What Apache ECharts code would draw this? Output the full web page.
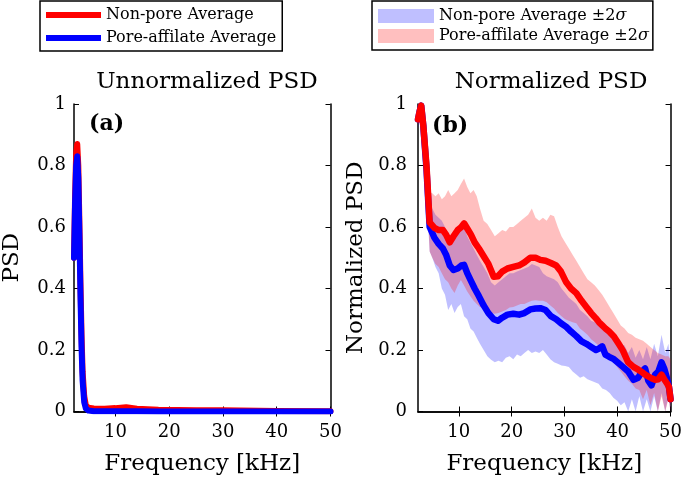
<html>
<head>
<meta charset="UTF-8">
<script src="https://cdn.jsdelivr.net/npm/echarts@6/dist/echarts.min.js"></script>
</head>
<body style="margin:0;background:#fff;">
<div id="main" style="width:685px;height:481px;"></div>
<script type="text/javascript">

// (a) unnormalized PSD
var rawFreq = [2.3, 2.5, 2.7, 2.9, 3.1, 3.3, 3.5, 3.7, 3.9, 4.2, 4.5, 5, 6, 8, 10, 12, 14, 18, 25, 30, 40, 50];
var rawNonPore = [0.50, 0.70, 0.84, 0.87, 0.80, 0.62, 0.42, 0.25, 0.13, 0.05, 0.02, 0.012, 0.01, 0.009, 0.011, 0.014, 0.009, 0.006, 0.004, 0.004, 0.002, 0.001];
var rawPore = [0.50, 0.68, 0.80, 0.83, 0.76, 0.58, 0.38, 0.21, 0.10, 0.03, 0.01, 0.003, 0.001, 0.001, 0.001, 0.001, 0.001, 0, 0, 0, 0, 0];

// (b) normalized PSD, average lines
var normFreq = [2.3, 2.6, 2.9, 3.3, 3.9, 4.5, 5.4, 6.2, 7.0, 7.6, 8.3, 9.0, 9.8, 10.5, 11.0, 11.6, 12.3, 13.0, 13.8, 14.7,
    15.6, 16.6, 17.4, 18.2, 19.2, 20.3, 21.4, 22.4, 23.5, 24.5, 25.4, 26.4, 27.4, 28.4, 29.3, 30.3, 31.2, 32.2, 33.2, 34.1,
    35.0, 35.9, 36.5, 37.1, 37.7, 38.4, 39.3, 40.2, 41.0, 42.0, 43.0, 43.9, 44.6, 45.2, 45.8, 46.4, 47.1, 47.7, 48.3, 48.8,
    49.3, 49.7, 50.0];
var normNonPore = [0.95, 0.975, 0.995, 0.93, 0.80, 0.615, 0.597, 0.59, 0.59, 0.575, 0.55, 0.57, 0.59, 0.60, 0.612, 0.595, 0.575, 0.55, 0.53, 0.505,
    0.48, 0.438, 0.44, 0.455, 0.465, 0.47, 0.475, 0.485, 0.50, 0.50, 0.493, 0.49, 0.483, 0.475, 0.455, 0.42, 0.40, 0.385, 0.36, 0.34,
    0.32, 0.303, 0.29, 0.28, 0.27, 0.26, 0.244, 0.22, 0.198, 0.16, 0.145, 0.136, 0.128, 0.12, 0.114, 0.108, 0.103, 0.105, 0.12, 0.105,
    0.092, 0.08, 0.04];
var normPore = [0.95, 0.975, 0.995, 0.93, 0.79, 0.60, 0.565, 0.545, 0.53, 0.51, 0.475, 0.46, 0.465, 0.475, 0.477, 0.45, 0.425, 0.40, 0.375, 0.345,
    0.32, 0.30, 0.295, 0.305, 0.315, 0.318, 0.315, 0.32, 0.332, 0.335, 0.336, 0.33, 0.31, 0.30, 0.287, 0.275, 0.26, 0.245, 0.228, 0.22,
    0.21, 0.20, 0.205, 0.212, 0.185, 0.178, 0.17, 0.157, 0.145, 0.13, 0.103, 0.11, 0.13, 0.14, 0.10, 0.085, 0.12, 0.13, 0.16, 0.14,
    0.11, 0.08, 0.04];

// (b) +-2 sigma bands
var bandFreq = [2.3, 2.9, 3.5, 4.0, 4.5, 5.0, 5.6, 6.2, 6.8, 7.4, 8.0, 8.6, 9.2, 9.8, 10.4, 11.0, 11.6, 12.2, 12.8, 13.4,
    14.0, 14.7, 15.4, 16.1, 16.8, 17.5, 18.2, 18.9, 19.6, 20.3, 21.0, 21.7, 22.4, 23.1, 23.8, 24.5, 25.2, 25.9, 26.6, 27.3,
    28.0, 28.7, 29.4, 30.1, 30.8, 31.5, 32.2, 32.9, 33.6, 34.3, 35.0, 35.7, 36.4, 37.1, 37.8, 38.5, 39.2, 39.9, 40.6, 41.3,
    42.0, 42.7, 43.4, 44.1, 44.8, 45.5, 46.2, 46.9, 47.6, 48.3, 49.0, 49.6, 50.0];
var pinkUpper = [0.96, 1.0, 0.90, 0.80, 0.715, 0.71, 0.70, 0.71, 0.69, 0.70, 0.72, 0.70, 0.71, 0.72, 0.74, 0.758, 0.73, 0.71, 0.72, 0.70,
    0.66, 0.62, 0.61, 0.59, 0.57, 0.58, 0.59, 0.585, 0.60, 0.60, 0.61, 0.62, 0.63, 0.64, 0.66, 0.63, 0.62, 0.63, 0.62, 0.64,
    0.635, 0.60, 0.57, 0.55, 0.53, 0.51, 0.49, 0.47, 0.45, 0.43, 0.42, 0.41, 0.395, 0.38, 0.36, 0.34, 0.32, 0.30, 0.28, 0.27,
    0.255, 0.25, 0.24, 0.235, 0.23, 0.22, 0.21, 0.20, 0.19, 0.185, 0.18, 0.18, 0.17];
var pinkLower = [0.93, 0.97, 0.85, 0.70, 0.52, 0.50, 0.48, 0.47, 0.45, 0.43, 0.42, 0.40, 0.385, 0.41, 0.428, 0.41, 0.39, 0.375, 0.36, 0.35,
    0.34, 0.335, 0.325, 0.32, 0.318, 0.32, 0.325, 0.33, 0.338, 0.34, 0.345, 0.35, 0.35, 0.355, 0.36, 0.362, 0.36, 0.36, 0.355, 0.345,
    0.335, 0.32, 0.31, 0.30, 0.295, 0.29, 0.287, 0.27, 0.26, 0.25, 0.235, 0.225, 0.215, 0.20, 0.185, 0.175, 0.16, 0.145, 0.13, 0.115,
    0.10, 0.09, 0.075, 0.07, 0.04, 0.07, 0.02, 0.06, 0.0, 0.05, 0.0, 0.04, 0.0];
var blueUpper = [0.94, 0.99, 0.89, 0.78, 0.67, 0.66, 0.64, 0.63, 0.62, 0.60, 0.58, 0.57, 0.57, 0.58, 0.59, 0.60, 0.57, 0.55, 0.53, 0.51,
    0.49, 0.47, 0.45, 0.42, 0.41, 0.42, 0.43, 0.44, 0.45, 0.45, 0.455, 0.46, 0.465, 0.47, 0.48, 0.475, 0.47, 0.45, 0.44, 0.435,
    0.43, 0.42, 0.40, 0.385, 0.37, 0.36, 0.35, 0.33, 0.32, 0.31, 0.295, 0.29, 0.28, 0.27, 0.26, 0.25, 0.24, 0.24, 0.22, 0.215,
    0.19, 0.21, 0.175, 0.20, 0.17, 0.21, 0.17, 0.22, 0.18, 0.25, 0.19, 0.22, 0.15];
var blueLower = [0.92, 0.97, 0.84, 0.68, 0.52, 0.50, 0.47, 0.45, 0.40, 0.38, 0.33, 0.35, 0.32, 0.34, 0.35, 0.31, 0.30, 0.27, 0.26, 0.24,
    0.22, 0.20, 0.18, 0.168, 0.16, 0.165, 0.16, 0.175, 0.18, 0.17, 0.185, 0.18, 0.19, 0.20, 0.19, 0.195, 0.19, 0.20, 0.185, 0.17,
    0.16, 0.155, 0.15, 0.148, 0.145, 0.13, 0.12, 0.11, 0.115, 0.105, 0.10, 0.095, 0.09, 0.075, 0.07, 0.06, 0.045, 0.035, 0.02, 0.03,
    0.0, 0.04, 0.0, 0.05, 0.0, 0.04, 0.0, 0.05, 0.0, 0.06, 0.0, 0.05, 0.0];

var freqTicks = [10, 20, 30, 40, 50];

var FONT = 'DejaVu Serif';

function pairs(xs, ys) {
    return xs.map(function (x, i) { return [x, ys[i]]; });
}

// polygon between an upper and a lower edge, placed with the axis scales
function bandRender(upper, lower, fill) {
    return function (params, api) {
        var pts = [];
        for (var i = 0; i < bandFreq.length; i++) {
            pts.push(api.coord([bandFreq[i], upper[i]]));
        }
        for (var j = bandFreq.length - 1; j >= 0; j--) {
            pts.push(api.coord([bandFreq[j], lower[j]]));
        }
        return {
            type: 'polygon',
            shape: { points: pts },
            style: { fill: fill }
        };
    };
}

function bottomAxis(gridIndex) {
    return {
        type: 'value', gridIndex: gridIndex, position: 'bottom', min: 2.3, max: 50,
        name: 'Frequency [kHz]', nameLocation: 'middle', nameGap: 41,
        nameTextStyle: { fontFamily: FONT, fontSize: 23, color: '#000' },
        axisLine: { lineStyle: { color: '#000', width: 1.5 } },
        axisTick: { inside: true, length: 5, customValues: freqTicks, lineStyle: { color: '#000', width: 1 } },
        axisLabel: { customValues: freqTicks, margin: 12, fontFamily: FONT, fontSize: 18, color: '#000' },
        splitLine: { show: false }
    };
}
function topAxis(gridIndex) {
    return {
        type: 'value', gridIndex: gridIndex, position: 'top', min: 2.3, max: 50,
        axisLine: { lineStyle: { color: '#000', width: 1.5 } },
        axisTick: { inside: true, length: 5, customValues: freqTicks, lineStyle: { color: '#000', width: 1 } },
        axisLabel: { show: false },
        splitLine: { show: false }
    };
}
function leftAxis(gridIndex, name, margin) {
    return {
        type: 'value', gridIndex: gridIndex, position: 'left', min: 0, max: 1, interval: 0.2,
        name: name, nameLocation: 'middle', nameGap: 50,
        nameTextStyle: { fontFamily: FONT, fontSize: 23, color: '#000' },
        axisLine: { show: true, lineStyle: { color: '#000', width: 1.5 } },
        axisTick: { show: true, inside: true, length: 5, lineStyle: { color: '#000', width: 1 } },
        axisLabel: { margin: margin, fontFamily: FONT, fontSize: 18, color: '#000' },
        splitLine: { show: false }
    };
}
function rightAxis(gridIndex) {
    return {
        type: 'value', gridIndex: gridIndex, position: 'right', min: 0, max: 1, interval: 0.2,
        axisLine: { show: true, lineStyle: { color: '#000', width: 1.5 } },
        axisTick: { show: true, inside: true, length: 5, lineStyle: { color: '#000', width: 1 } },
        axisLabel: { show: false },
        splitLine: { show: false }
    };
}

var sigmaFormatter = function (name) { return name.replace('σ', '{i|σ}'); };

var option = {
    animation: false,
    backgroundColor: '#fff',
    title: [
        { text: 'Unnormalized PSD', left: 202, top: 66, textAlign: 'center',
          textStyle: { fontFamily: FONT, fontSize: 23, fontWeight: 'normal', color: '#000' } },
        { text: 'Normalized PSD', left: 546, top: 66, textAlign: 'center',
          textStyle: { fontFamily: FONT, fontSize: 23, fontWeight: 'normal', color: '#000' } },
        { text: '(a)', left: 84, top: 108,
          textStyle: { fontFamily: FONT, fontSize: 22, fontWeight: 'bold', color: '#000' } },
        { text: '(b)', left: 427, top: 110,
          textStyle: { fontFamily: FONT, fontSize: 22, fontWeight: 'bold', color: '#000' } }
    ],
    legend: [
        {
            data: ['Non-pore Average', 'Pore-affilate Average'],
            left: 40, top: 1, orient: 'vertical',
            icon: 'rect', itemWidth: 55, itemHeight: 6, itemGap: 7,
            padding: [6, 6, 5, 6],
            borderColor: '#000', borderWidth: 1.5, borderRadius: 0, backgroundColor: '#fff',
            selectedMode: false,
            textStyle: { fontFamily: FONT, fontSize: 16, color: '#000', lineHeight: 16 }
        },
        {
            data: ['Non-pore Average ±2σ', 'Pore-affilate Average ±2σ'],
            left: 372, top: 1, orient: 'vertical',
            icon: 'rect', itemWidth: 56, itemHeight: 14, itemGap: 4,
            padding: [7, 4, 6, 6],
            borderColor: '#000', borderWidth: 1.5, borderRadius: 0, backgroundColor: '#fff',
            selectedMode: false,
            formatter: sigmaFormatter,
            textStyle: { fontFamily: FONT, fontSize: 16, color: '#000', lineHeight: 16,
                rich: { i: { fontFamily: FONT, fontSize: 16, fontStyle: 'italic', color: '#000' } } }
        }
    ],
    grid: [
        { left: 73, top: 104, width: 257.5, height: 307.5 },
        { left: 418, top: 104, width: 255, height: 307.5 }
    ],
    xAxis: [bottomAxis(0), topAxis(0), bottomAxis(1), topAxis(1)],
    yAxis: [leftAxis(0, 'PSD', 8), rightAxis(0), leftAxis(1, 'Normalized PSD', 11), rightAxis(1)],
    series: [
        {
            name: 'Non-pore Average', type: 'line', xAxisIndex: 0, yAxisIndex: 0,
            data: pairs(rawFreq, rawNonPore), showSymbol: false,
            itemStyle: { color: '#ff0000' },
            lineStyle: { color: '#ff0000', width: 6, join: 'round', cap: 'round' }
        },
        {
            name: 'Pore-affilate Average', type: 'line', xAxisIndex: 0, yAxisIndex: 0,
            data: pairs(rawFreq, rawPore), showSymbol: false,
            itemStyle: { color: '#0000ff' },
            lineStyle: { color: '#0000ff', width: 6, join: 'round', cap: 'round' }
        },
        {
            name: 'Non-pore Average ±2σ', type: 'custom', xAxisIndex: 2, yAxisIndex: 2,
            data: [[2.3, 0]], silent: true,
            itemStyle: { color: 'rgba(0,0,255,0.25)' },
            renderItem: bandRender(blueUpper, blueLower, 'rgba(0,0,255,0.25)')
        },
        {
            name: 'Pore-affilate Average ±2σ', type: 'custom', xAxisIndex: 2, yAxisIndex: 2,
            data: [[2.3, 0]], silent: true,
            itemStyle: { color: 'rgba(255,0,0,0.25)' },
            renderItem: bandRender(pinkUpper, pinkLower, 'rgba(255,0,0,0.25)')
        },
        {
            name: 'Pore-affilate Average', type: 'line', xAxisIndex: 2, yAxisIndex: 2,
            data: pairs(normFreq, normPore), showSymbol: false,
            itemStyle: { color: '#0000ff' },
            lineStyle: { color: '#0000ff', width: 6.5, join: 'round', cap: 'round' }
        },
        {
            name: 'Non-pore Average', type: 'line', xAxisIndex: 2, yAxisIndex: 2,
            data: pairs(normFreq, normNonPore), showSymbol: false,
            itemStyle: { color: '#ff0000' },
            lineStyle: { color: '#ff0000', width: 6.5, join: 'round', cap: 'round' }
        }
    ]
};

var myChart = echarts.init(document.getElementById('main'));
myChart.setOption(option);

</script>
</body>
</html>
